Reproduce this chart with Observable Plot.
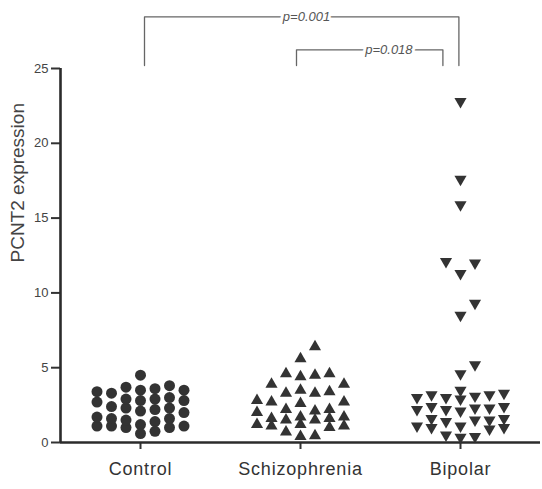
<!DOCTYPE html>
<html><head><meta charset="utf-8">
<script src="https://cdn.jsdelivr.net/npm/d3@7"></script>
<script src="https://cdn.jsdelivr.net/npm/@observablehq/plot@0.6"></script>
<style>
body{margin:0;background:#fff}
svg{display:block}
g[aria-label^="x-axis"] text{font-size:18px;letter-spacing:0.8px;fill:#333}
g[aria-label^="y-axis"] text{font-size:13px;fill:#444}
g[aria-label^="x-axis"] path, g[aria-label^="x-axis"] line,
g[aria-label^="y-axis"] path, g[aria-label^="y-axis"] line{stroke:#333;stroke-width:2}
</style>
</head><body><div id="chart"></div>
<script>
const groups = ["Control", "Schizophrenia", "Bipolar"];
const controlValues = [4.5,
  3.8, 3.7, 3.6, 3.5, 3.5, 3.4, 3.3,
  3.0, 2.9, 2.9, 2.8, 2.8, 2.7,
  2.4, 2.3, 2.3, 2.2, 2.1, 2.0,
  1.7, 1.6, 1.6, 1.5, 1.4,
  1.2, 1.1, 1.1, 1.1, 1.0, 1.0,
  0.75, 0.6];
const schizophreniaValues = [6.4, 5.6,
  4.6, 4.6, 4.5, 4.4,
  3.9, 3.9,
  3.5, 3.4, 3.3, 3.3,
  2.8, 2.7, 2.7, 2.6,
  2.2, 2.2, 2.1, 2.0,
  1.7, 1.7, 1.6, 1.6, 1.5, 1.5,
  1.2, 1.2, 1.1, 1.1, 1.0,
  0.7, 0.45, 0.4];
const bipolarValues = [22.8, 17.6, 15.9, 12.1, 12.0, 11.3, 9.3, 8.5,
  5.2, 4.6, 3.5,
  3.3, 3.2, 3.2, 3.1, 3.0, 3.0, 2.9,
  2.4, 2.4, 2.3, 2.3, 2.2, 2.2, 2.1,
  1.6, 1.6, 1.5, 1.5, 1.4,
  1.1, 1.1, 1.0, 1.0, 0.9,
  0.5, 0.4, 0.35];
const yTicks = [0, 5, 10, 15, 20, 25];
const yLabel = "PCNT2 expression";
const comparisons = [
  {from: "Control", to: "Bipolar", label: "p=0.001"},
  {from: "Schizophrenia", to: "Bipolar", label: "p=0.018"}
];

const W = 542, H = 489, mL = 60, mR = 2, mT = 68, mB = 47;
const yMax = 25;
const pxPerY = (H - mT - mB) / yMax;
const pxPerX = (W - mL - mR) / groups.length;

// column-scatter layout (points spread over a few columns, like a dot plot)
function columnScatter(values, gi) {
  const step = 14.5, cols = [0, -1, 1, -2, 2, -3, 3], D = 12.2;
  const colPts = new Map(cols.map(c => [c, []]));
  const sorted = values.slice().sort((a, b) => a - b);
  return sorted.map((v, idx) => {
    const py = v * pxPerY;
    const order = idx % 2 ? cols.map(c => -c) : cols;
    let best = order[0], bestGap = -Infinity;
    for (const c of order) {
      const pts = colPts.get(c);
      const gap = pts.length ? Math.min(...pts.map(q => Math.abs(q - py))) : Infinity;
      if (gap >= D) { best = c; break; }
      if (gap > bestGap) { bestGap = gap; best = c; }
    }
    colPts.get(best).push(py);
    return {group: groups[gi], value: v, x: gi + best * step / pxPerX};
  });
}

const ctrl = columnScatter(controlValues, 0);
const scz = columnScatter(schizophreniaValues, 1);
const bip = columnScatter(bipolarValues, 2);

// significance brackets (data units)
const bracketTop = [yMax + 3.45, yMax + 1.25];
const bracketBottom = yMax + 0.2;
const bracketLines = [];
const bracketLabels = [];
comparisons.forEach((c, k) => {
  const i1 = groups.indexOf(c.from), i2 = groups.indexOf(c.to);
  const x1 = i1 + (k === 0 ? 0.025 : -0.025);
  const x2 = i2 + (k === 0 ? -0.01 : -0.11);
  const yt = bracketTop[k];
  [[x1, bracketBottom], [x1, yt], [x2, yt], [x2, bracketBottom]].forEach(([x, y]) =>
    bracketLines.push({k, x, y}));
  bracketLabels.push({label: c.label, x: k === 0 ? (x1 + x2) / 2 + 0.03 : (x1 + x2) / 2 + 0.12, y: yt});
});

const chart = Plot.plot({
  width: W, height: H,
  marginLeft: mL, marginRight: mR, marginTop: mT, marginBottom: mB,
  style: {fontFamily: "'Liberation Sans', Arial, sans-serif", background: "#fff", color: "#333"},
  x: {type: "linear", domain: [-0.5, groups.length - 0.5], ticks: [0, 1, 2],
      tickFormat: i => groups[i], tickSize: 7, tickPadding: 13, label: null},
  y: {domain: [0, yMax], ticks: yTicks, tickSize: 9, tickPadding: 3, label: null},
  marks: [
    Plot.ruleY([0], {stroke: "#2b2b2b", strokeWidth: 2.6}),
    Plot.ruleX([-0.5], {stroke: "#2b2b2b", strokeWidth: 2.6}),
    Plot.dot(ctrl, {x: "x", y: "value", r: 5.5, fill: "#333", stroke: "none", symbol: "circle"}),
    Plot.dot(scz, {x: "x", y: "value", r: 4.5, fill: "#333", stroke: "none", symbol: "triangle"}),
    Plot.dot(bip, {x: "x", y: "value", r: 4.5, fill: "#333", stroke: "none", symbol: "triangle", rotate: 180}),
    Plot.line(bracketLines, {x: "x", y: "y", z: "k", stroke: "#666", strokeWidth: 1.3}),
    Plot.text(bracketLabels, {x: "x", y: "y", text: "label", fontSize: 13, fontStyle: "italic",
      fill: "#555", stroke: "white", strokeWidth: 6, paintOrder: "stroke"}),
    Plot.text([yLabel], {frameAnchor: "left", rotate: -90, dx: -43, dy: 7, fontSize: 19, fill: "#444"})
  ]
});
document.getElementById("chart").appendChild(chart);
</script>
</body></html>
